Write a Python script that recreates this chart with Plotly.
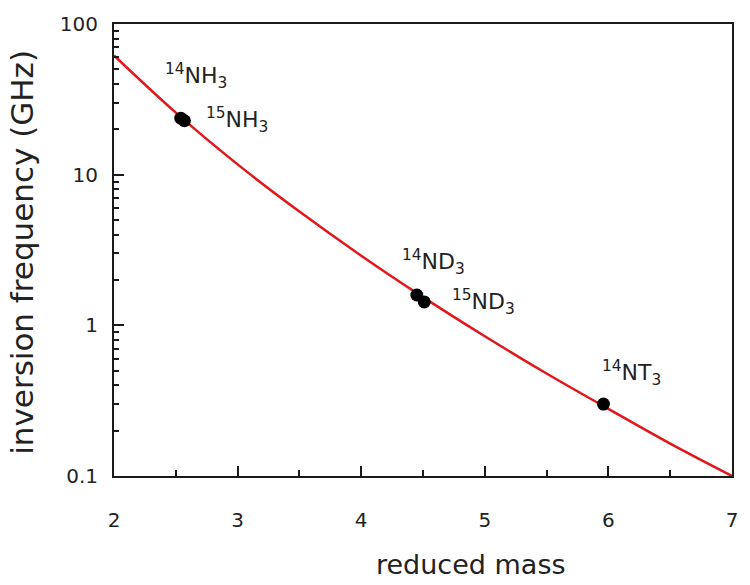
import math
import plotly.graph_objects as go

# Inversion-frequency curve versus reduced mass (sampled values)
curve_mass = [2.0, 2.5, 3.0, 3.5, 4.0, 4.5, 5.0, 5.5, 6.0, 6.5, 7.0]
curve_freq = [61.8, 25.8, 11.7, 5.69, 2.90, 1.54, 0.847, 0.479, 0.279, 0.164, 0.100]

# Measured isotopologues
species = ["<sup>14</sup>NH<sub>3</sub>", "<sup>15</sup>NH<sub>3</sub>",
           "<sup>14</sup>ND<sub>3</sub>", "<sup>15</sup>ND<sub>3</sub>",
           "<sup>14</sup>NT<sub>3</sub>"]
species_mass = [2.54, 2.57, 4.45, 4.51, 5.96]
species_freq = [23.7, 22.8, 1.59, 1.43, 0.30]
label_dx = [15, 53, 17, 59, 28]
label_dy = [42, 1, 33, 0, 31]

# Axis ticks
x_major = [2, 3, 4, 5, 6, 7]
x_minor = [2.5, 3.5, 4.5, 5.5, 6.5]
y_major = [0.1, 1, 10, 100]
y_major_text = ["0.1", "1", "10", "100"]
y_minor = [d * 10 ** e for e in (-1, 0, 1) for d in range(2, 10)]

FONT = "DejaVu Sans"
TXT = "#222222"
AX = "#1a1a1a"

fig = go.Figure()
fig.add_trace(go.Scatter(x=curve_mass, y=curve_freq, mode="lines",
                         line=dict(color="#e3161b", width=2.5, shape="spline"),
                         hoverinfo="skip"))
fig.add_trace(go.Scatter(x=species_mass, y=species_freq, mode="markers",
                         marker=dict(color="black", size=13)))

for name, m, f, dx, dy in zip(species, species_mass, species_freq, label_dx, label_dy):
    fig.add_annotation(x=m, y=math.log10(f), text=name, showarrow=False,
                       xshift=dx, yshift=dy,
                       font=dict(family=FONT, size=22, color=TXT))

# Axis titles placed as paper-referenced annotations
fig.add_annotation(text="reduced mass", xref="paper", yref="paper",
                   x=0.577, y=-0.196, xanchor="center", yanchor="middle",
                   showarrow=False, font=dict(family=FONT, size=27, color=TXT))
fig.add_annotation(text="inversion frequency (GHz)", xref="paper", yref="paper",
                   x=-0.148, y=0.495, xanchor="center", yanchor="middle", textangle=-90,
                   showarrow=False, font=dict(family=FONT, size=31, color=TXT))

fig.update_layout(
    width=750, height=585,
    margin=dict(l=114, r=12, t=22, b=109),
    paper_bgcolor="white", plot_bgcolor="white",
    showlegend=False,
    font=dict(family=FONT, color=TXT),
)
fig.update_xaxes(
    range=[2, 7], tickvals=x_major,
    ticks="inside", ticklen=10, tickwidth=2, tickcolor=AX,
    minor=dict(ticks="inside", ticklen=6, tickwidth=2, tickcolor=AX, tickvals=x_minor),
    showline=True, linecolor=AX, linewidth=2, mirror=True,
    showgrid=False, zeroline=False,
    tickfont=dict(family=FONT, size=20, color=TXT), ticklabelstandoff=25,
)
fig.update_yaxes(
    type="log", range=[-1, 2], tickvals=y_major, ticktext=y_major_text,
    ticks="inside", ticklen=10, tickwidth=2, tickcolor=AX,
    minor=dict(ticks="inside", ticklen=5, tickwidth=2, tickcolor=AX, tickvals=y_minor,
               showgrid=False),
    showline=True, linecolor=AX, linewidth=2, mirror=True,
    showgrid=False, zeroline=False,
    tickfont=dict(family=FONT, size=20, color=TXT), ticklabelstandoff=10,
)

fig.write_html("out.html")
